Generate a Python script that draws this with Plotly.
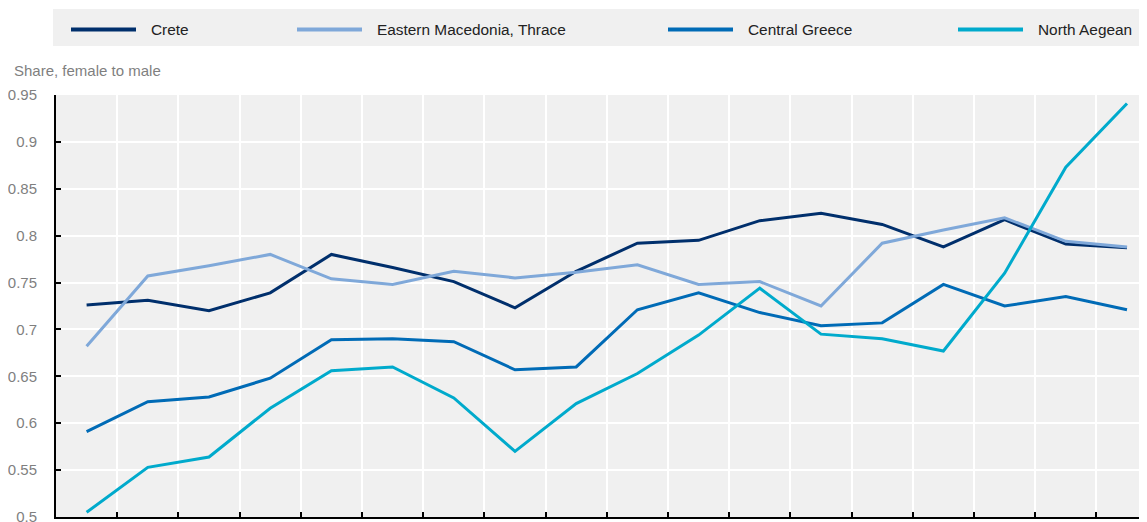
import plotly.graph_objects as go

years = list(range(2000, 2018))
crete = [0.726, 0.731, 0.720, 0.739, 0.780, 0.766, 0.751, 0.723, 0.762, 0.792,
         0.795, 0.816, 0.824, 0.812, 0.788, 0.817, 0.791, 0.787]
east_mac = [0.682, 0.757, 0.768, 0.780, 0.754, 0.748, 0.762, 0.755, 0.761, 0.769,
            0.748, 0.751, 0.725, 0.792, 0.806, 0.819, 0.794, 0.788]
central = [0.591, 0.623, 0.628, 0.648, 0.689, 0.690, 0.687, 0.657, 0.660, 0.721,
           0.739, 0.718, 0.704, 0.707, 0.748, 0.725, 0.735, 0.721]
north_aegean = [0.505, 0.553, 0.564, 0.616, 0.656, 0.660, 0.627, 0.570, 0.621, 0.653,
                0.694, 0.744, 0.695, 0.690, 0.677, 0.760, 0.873, 0.941]

names = ["Crete", "Eastern Macedonia, Thrace", "Central Greece", "North Aegean"]
colors = ["#002F6C", "#7FA8D9", "#006BB6", "#00AACC"]
series = [crete, east_mac, central, north_aegean]
y_ticks = [0.5, 0.55, 0.6, 0.65, 0.7, 0.75, 0.8, 0.85, 0.9, 0.95]
y_ticktext = ["0.5", "0.55", "0.6", "0.65", "0.7", "0.75", "0.8", "0.85", "0.9", "0.95"]
y_title = "Share, female to male"

OFF = 8  # default page body margin
W, H = 1147, 522
L, T = 56 - OFF, 95 - OFF
PB = 517 - OFF          # plot bottom in figure px
PR = 1147 - OFF         # plot right in figure px
R, B = W - PR, H - PB
pw, ph = PR - L, PB - T

def px_x(x):  # page px -> paper
    return (x - OFF - L) / pw

def px_y(y):
    return (PB - (y - OFF)) / ph

FONT = "Arial, Liberation Sans, sans-serif"

fig = go.Figure()
for n, c, s in zip(names, colors, series):
    fig.add_trace(go.Scatter(x=years, y=s, name=n, mode="lines",
                             line=dict(color=c, width=3), showlegend=False))

shapes = [dict(type="rect", xref="paper", yref="paper",
               x0=px_x(53), x1=px_x(1150), y0=px_y(46), y1=px_y(9),
               fillcolor="#F0F0F0", line=dict(width=0), layer="below")]
annotations = []
leg_line_x = [71, 297, 668, 958]
for n, c, lx in zip(names, colors, leg_line_x):
    shapes.append(dict(type="line", xref="paper", yref="paper",
                       x0=px_x(lx), x1=px_x(lx + 65), y0=px_y(29.5), y1=px_y(29.5),
                       line=dict(color=c, width=4)))
    annotations.append(dict(text=n, xref="paper", yref="paper", x=px_x(lx + 78), y=px_y(30),
                            xanchor="left", yanchor="middle", showarrow=False,
                            font=dict(family=FONT, size=15.4, color="#222222")))
annotations.append(dict(text=y_title, xref="paper", yref="paper", x=px_x(12), y=px_y(70),
                        xanchor="left", yanchor="middle", showarrow=False,
                        font=dict(family=FONT, size=15, color="#7F7F7F")))

x_bounds = [y + 0.5 for y in years[:-1]]
fig.update_layout(
    width=W, height=H,
    margin=dict(l=L, r=R, t=T, b=B, autoexpand=False),
    paper_bgcolor="white", plot_bgcolor="#F0F0F0",
    font=dict(family=FONT, size=15, color="#7F7F7F"),
    shapes=shapes, annotations=annotations,
    showlegend=False,
    xaxis=dict(range=[years[0] - 0.5, years[0] - 0.5 + pw / 61.2],
               tickvals=x_bounds, showticklabels=False,
               ticks="inside", ticklen=5, tickwidth=2, tickcolor="black",
               showgrid=True, gridcolor="white", gridwidth=2,
               showline=True, linecolor="black", linewidth=2,
               zeroline=False, automargin=False),
    yaxis=dict(range=[0.5, 0.95], tickvals=y_ticks, ticktext=y_ticktext,
               ticks="inside", ticklen=5, tickwidth=1.5, tickcolor="black",
               showgrid=True, gridcolor="white", gridwidth=2,
               showline=True, linecolor="black", linewidth=2,
               zeroline=False, automargin=False, ticklabelstandoff=14,
               tickfont=dict(family=FONT, size=15, color="#7F7F7F")),
)
fig.write_html("out.html")
